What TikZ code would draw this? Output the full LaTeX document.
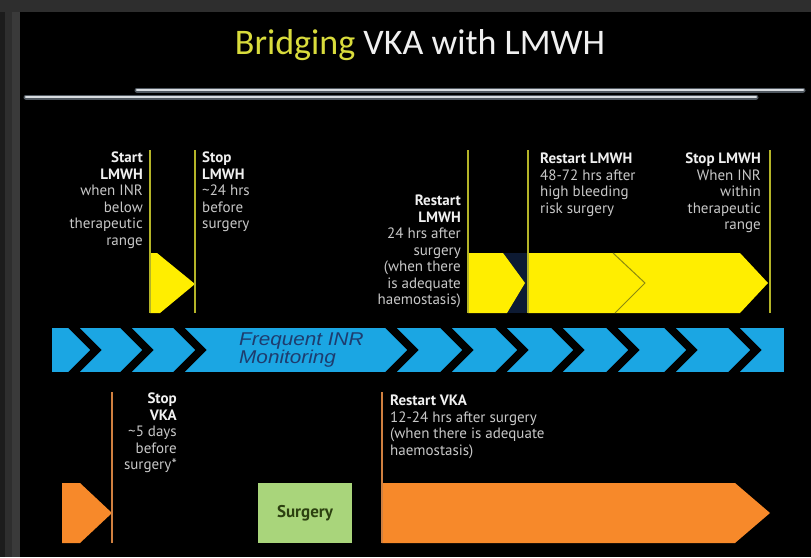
\documentclass[tikz,border=0pt]{standalone}
\usepackage{fontspec}
\setmainfont{PT Sans}
\newfontfamily\titlefont{Carlito}
\newfontfamily\bandfont{Liberation Sans}
\definecolor{framegrey}{HTML}{2E2E2E}
\definecolor{framedark}{HTML}{1C1C1C}
\definecolor{framelight}{HTML}{3A3A3A}
\definecolor{lmwh}{HTML}{FFEE00}
\definecolor{lmwhline}{HTML}{B4B428}
\definecolor{lmwhseam}{HTML}{8C8A10}
\definecolor{gapnavy}{HTML}{0D1A33}
\definecolor{vka}{HTML}{F7892A}
\definecolor{vkaline}{HTML}{D08040}
\definecolor{inr}{HTML}{1BA6E3}
\definecolor{inrtext}{HTML}{1E3C6E}
\definecolor{surg}{HTML}{A9D57B}
\definecolor{surgtext}{HTML}{2C4010}
\definecolor{headwhite}{HTML}{F0F0F0}
\definecolor{softgrey}{HTML}{C8C8C8}
\definecolor{titleyellow}{HTML}{D9DC3C}
\definecolor{rulegrey}{HTML}{D8DCE0}
\definecolor{ruleglow}{HTML}{505860}
\newcommand\lblhead[1]{\textcolor{headwhite}{\bfseries #1}}
\begin{document}
\begin{tikzpicture}[x=1pt,y=-1pt,
  lbl/.style={inner sep=0pt, text=softgrey, font=\fontsize{15}{16.5}\selectfont},
  vline/.style={line width=2pt},
  rulerline/.style={rulegrey, line width=2.4pt, line cap=round},
  rulerglow/.style={ruleglow, line width=5pt, line cap=round},
  chev/.style={black, line width=8pt, miter limit=10}
]
\useasboundingbox (0,0) rectangle (811,557);
% slide frame
\fill[framegrey] (0,0) rectangle (811,557);
\fill[framedark] (0,0) rectangle (5,557);
\fill[framelight] (12,0) rectangle (20,557);
\fill[framegrey] (0,0) rectangle (811,12);
\fill[black] (20,12) rectangle (811,557);

% title and rules
\node[inner sep=0pt, font=\titlefont\fontsize{36}{40}\selectfont] (title) at (420,45)
  {\textcolor{titleyellow}{Bridging} \textcolor{headwhite}{VKA with LMWH}};
\coordinate (r1a) at (137,90); \coordinate (r1b) at (803,90);
\coordinate (r2a) at (26,97);  \coordinate (r2b) at (756,97);
\draw[rulerglow] (r1a) -- (r1b);
\draw[rulerglow] (r2a) -- (r2b);
\draw[rulerline] (r1a) -- (r1b);
\draw[rulerline] (r2a) -- (r2b);

% LMWH bars
\fill[gapnavy] (500,253) rectangle (528,313);
\fill[lmwh] (150,253) -- (157,253) -- (195,284) -- (160,313) -- (150,313) -- cycle;
\fill[lmwh] (468,253) -- (503,253) -- (525,283) -- (507,313) -- (468,313) -- cycle;
\fill[lmwh] (528,253) -- (740,253) -- (768,283) -- (740,313) -- (528,313) -- cycle;
\draw[lmwhseam, line width=1pt] (613,253) -- (645,283) -- (615,313);
\foreach \x in {150,195,468,528,770}
  \draw[lmwhline, vline] (\x,150) -- (\x,313);

% LMWH labels
\node[lbl, anchor=north east, align=right] (startlmwh) at (143,152)
  {\lblhead{Start}\\\lblhead{LMWH}\\when INR\\below\\therapeutic\\range};
\node[lbl, anchor=north west, align=left] (stoplmwh) at (202,152)
  {\lblhead{Stop}\\\lblhead{LMWH}\\\textasciitilde24 hrs\\before\\surgery};
\node[lbl, anchor=north east, align=right] (restartlmwh) at (461,195)
  {\lblhead{Restart}\\\lblhead{LMWH}\\24 hrs after\\surgery\\(when there\\is adequate\\haemostasis)};
\node[lbl, anchor=north west, align=left] (restartlmwhhigh) at (540,153)
  {\lblhead{Restart LMWH}\\48-72 hrs after\\high bleeding\\risk surgery};
\node[lbl, anchor=north east, align=right] (stoplmwhinr) at (761,153)
  {\lblhead{Stop LMWH}\\When INR\\within\\therapeutic\\range};

% INR monitoring band
\begin{scope}
  \clip (52,328) rectangle (784,372);
  \fill[inr] (52,328) rectangle (784,372);
  \foreach \t in {96,148,201,413,468,523,579,634,692,756}
    \draw[chev] (\t-26,324) -- (\t,350) -- (\t-26,376);
\end{scope}
\node[inner sep=0pt, anchor=west, align=left, text=inrtext, xscale=1.12,
      font=\bandfont\itshape\fontsize{18.5}{17}\selectfont] (inrtext) at (239,350)
  {Frequent INR\\Monitoring};

% VKA bars and surgery
\fill[vka] (62,483) -- (80,483) -- (112,513) -- (80,543) -- (62,543) -- cycle;
\fill[vka] (382,483) -- (735,483) -- (770,513) -- (735,543) -- (382,543) -- cycle;
\foreach \x in {112,382}
  \draw[vkaline, vline] (\x,392) -- (\x,543);
\node[fill=surg, minimum width=94pt, minimum height=60pt, inner sep=0pt,
      text=surgtext, font=\bfseries\fontsize{17}{18}\selectfont] (surgery) at (305,513) {Surgery};

% VKA labels
\node[lbl, anchor=north east, align=right] (stopvka) at (177,393)
  {\lblhead{Stop}\\\lblhead{VKA}\\\textasciitilde5 days\\before\\surgery*};
\node[lbl, anchor=north west, align=left] (restartvka) at (390,395)
  {\lblhead{Restart VKA}\\12-24 hrs after surgery\\(when there is adequate\\haemostasis)};
\end{tikzpicture}
\end{document}
